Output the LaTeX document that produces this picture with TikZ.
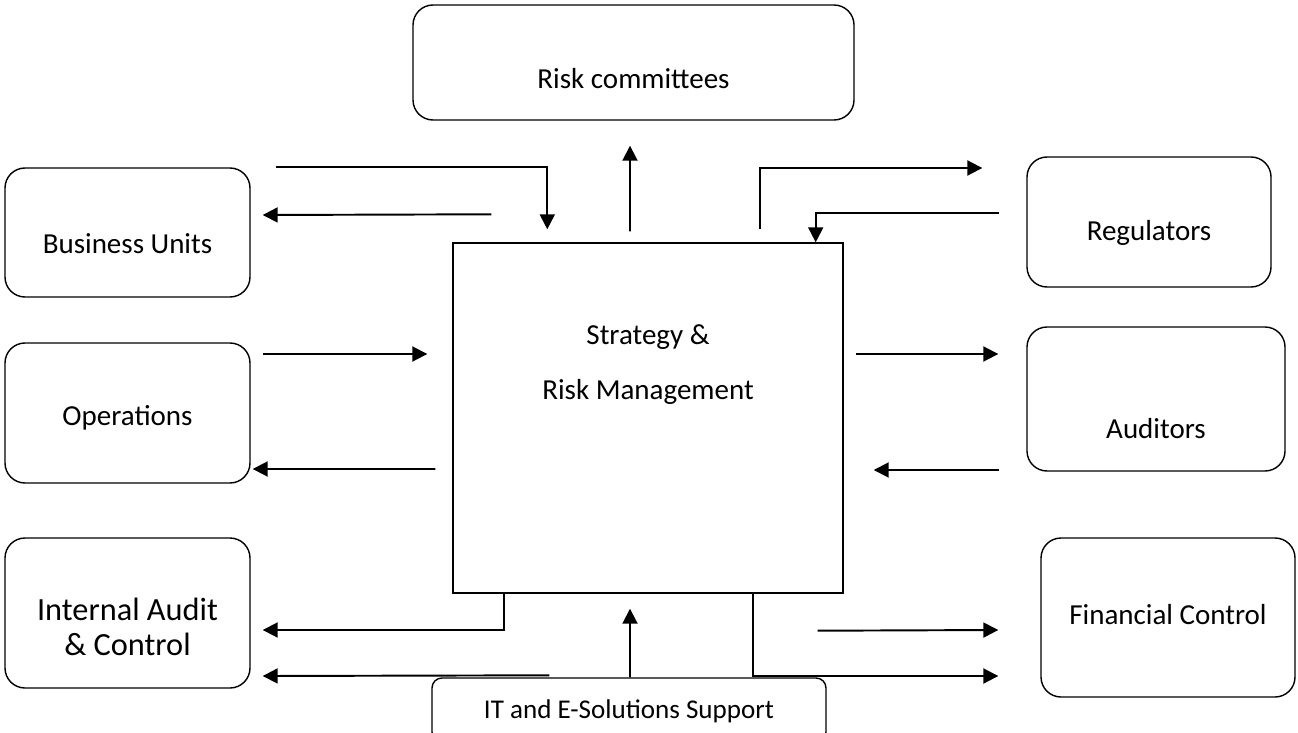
\documentclass[tikz,border=0pt]{standalone}
\usepackage{fontspec}
\setmainfont{Carlito}
\usepackage{tikz}
\usetikzlibrary{arrows.meta}

\begin{document}
\begin{tikzpicture}[
        unit/.style={
            rectangle,
            draw,
            line width=0.8pt,
            rounded corners=0.4cm,
            minimum width=4.9cm,
            align=center,
            inner sep=0pt,
            font=\fontsize{16.5}{19.8}\selectfont
        },
        hub/.style={
            rectangle,
            draw,
            line width=0.8pt,
            minimum width=7.8cm,
            minimum height=7cm,
            align=center,
            inner sep=0pt,
            font=\fontsize{16.5}{19.8}\selectfont
        },
        flow/.style={
            -{Triangle[length=0.3cm,width=0.3cm]},
            line width=1.1pt
        }
    ]
    \useasboundingbox (0,0) rectangle (25.96,-14.64);

    % boxes round the centre
    \node[unit, minimum width=8.82cm, minimum height=2.3cm, text height=1.04cm, text depth=0cm] (risk_comm) at (12.67, -1.25) {Risk committees};
    \node[unit, minimum height=2.58cm, text height=0.84cm, text depth=0cm] (business) at (2.55, -4.65) {Business Units};
    \node[unit, minimum width=4.88cm, minimum height=2.6cm, text height=0.84cm, text depth=0.1cm] (regulators) at (22.98, -4.44) {Regulators};
    \node[unit, minimum height=2.8cm, text height=0.6cm, text depth=0.1cm] (operations) at (2.55, -8.26) {Operations};
    \node[unit, minimum width=5.16cm, minimum height=2.88cm, text height=1.58cm, text depth=0cm] (auditors) at (23.12, -7.98) {Auditors};
    \node[unit, minimum height=3cm, text height=2.04cm, text depth=0.36cm, font=\fontsize{18.4}{19.5}\selectfont] (int_audit) at (2.55, -12.26) {Internal Audit\\\& Control};
    \node[unit, minimum width=5.08cm, minimum height=3.18cm, text height=0.56cm, text depth=0.28cm] (fin_control) at (23.36, -12.35) {Financial Control};
    \node[unit, rounded corners=0.2cm, minimum width=7.88cm, minimum height=1.28cm, text height=0.42cm, text depth=0.1cm, font=\fontsize{15.4}{18}\selectfont] (it_support) at (12.58, -14.2) {IT and E-Solutions Support};

    % centre
    \node[hub, text height=0.4cm, text depth=1.14cm] (strategy) at (12.96, -8.36) {Strategy \&\\[0.4cm]Risk Management};

    % Arrows
    \draw[flow] ([xshift=0.5cm]business.north east) -| ([xshift=1.9cm,yshift=0.26cm]strategy.north west);
    \draw[flow] ([xshift=0.78cm,yshift=0.56cm]strategy.north west) -- ([xshift=0.24cm,yshift=0.35cm]business.east);
    \draw[flow] ([xshift=-0.36cm,yshift=0.22cm]strategy.north) -- ([xshift=-0.07cm,yshift=-0.5cm]risk_comm.south);
    \draw[flow] ([xshift=-1.68cm,yshift=0.26cm]strategy.north east) |- ([xshift=-0.88cm,yshift=1.08cm]regulators.west);
    \draw[flow] ([xshift=-0.54cm,yshift=0.18cm]regulators.west) -| ([xshift=-0.56cm]strategy.north east);

    \draw[flow] ([xshift=0.24cm,yshift=1.18cm]operations.east) -- ([xshift=-0.5cm,yshift=1.28cm]strategy.west);
    \draw[flow] ([xshift=-0.34cm,yshift=-1.02cm]strategy.west) -- ([xshift=0.04cm,yshift=-1.12cm]operations.east);
    \draw[flow] ([xshift=0.24cm,yshift=1.28cm]strategy.east) -- ([xshift=-0.56cm,yshift=0.9cm]auditors.west);
    \draw[flow] ([xshift=-0.54cm,yshift=-1.42cm]auditors.west) -- ([xshift=0.6cm,yshift=-1.04cm]strategy.east);

    \draw[flow] ([xshift=1.04cm]strategy.south west) |- ([xshift=0.24cm,yshift=-0.34cm]int_audit.east);
    \draw[flow] ([xshift=2.36cm,yshift=0.04cm]it_support.north west) -- ([xshift=0.24cm,yshift=-1.26cm]int_audit.east);
    \draw[flow] ([xshift=0.02cm]it_support.north) -- ([xshift=-0.36cm,yshift=-0.3cm]strategy.south);
    \draw[flow] ([xshift=-0.52cm,yshift=-0.74cm]strategy.south east) -- ([xshift=-0.84cm,yshift=-0.25cm]fin_control.west);
    \draw[flow] ([xshift=-1.82cm]strategy.south east) |- ([xshift=-0.84cm,yshift=-1.17cm]fin_control.west);

\end{tikzpicture}
\end{document}
